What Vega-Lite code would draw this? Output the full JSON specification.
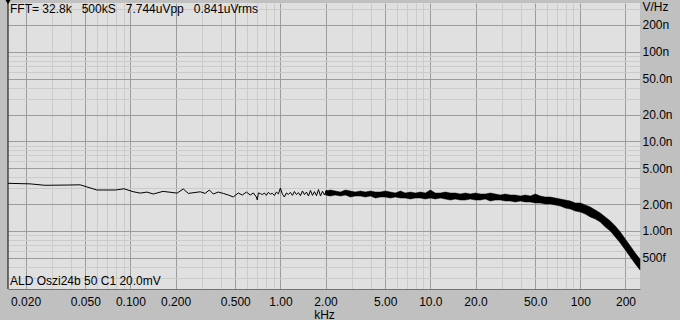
{
  "$schema": "https://vega.github.io/schema/vega-lite/v6.json",
  "width": 632,
  "height": 286,
  "autosize": {"type": "none"},
  "padding": {"left": 8, "top": 3, "right": 40, "bottom": 31},
  "background": "#c0c0c0",
  "view": {"fill": "#e0e0e0", "stroke": null},
  "config": {"font": "Liberation Sans"},
  "datasets": {
    "line": [
      {"f": 0.01526, "v": 3.41}, {"f": 0.0214, "v": 3.36}, {"f": 0.0269, "v": 3.24}, {"f": 0.0378, "v": 3.26},
      {"f": 0.0461, "v": 3.28}, {"f": 0.0599, "v": 2.87}, {"f": 0.0791, "v": 2.87}, {"f": 0.0908, "v": 2.96},
      {"f": 0.104, "v": 2.75}, {"f": 0.116, "v": 2.65}, {"f": 0.129, "v": 2.72}, {"f": 0.142, "v": 2.59},
      {"f": 0.165, "v": 2.77}, {"f": 0.205, "v": 2.65}, {"f": 0.225, "v": 2.95}, {"f": 0.243, "v": 2.63},
      {"f": 0.292, "v": 2.74}, {"f": 0.315, "v": 2.63}, {"f": 0.336, "v": 2.87}, {"f": 0.357, "v": 2.59},
      {"f": 0.385, "v": 2.72}, {"f": 0.416, "v": 2.63}, {"f": 0.45, "v": 2.52}, {"f": 0.485, "v": 2.4},
      {"f": 0.524, "v": 2.66}, {"f": 0.557, "v": 2.52}, {"f": 0.593, "v": 2.72}, {"f": 0.63, "v": 2.52},
      {"f": 0.66, "v": 2.66}, {"f": 0.691, "v": 2.4}, {"f": 0.702, "v": 2.22}, {"f": 0.713, "v": 2.66},
      {"f": 0.735, "v": 2.62}, {"f": 0.758, "v": 2.55}, {"f": 0.782, "v": 2.66}, {"f": 0.806, "v": 2.5},
      {"f": 0.831, "v": 2.7}, {"f": 0.857, "v": 2.58}, {"f": 0.884, "v": 2.64}, {"f": 0.912, "v": 2.49},
      {"f": 0.94, "v": 2.72}, {"f": 0.97, "v": 2.6}, {"f": 1.0, "v": 3.02}, {"f": 1.031, "v": 2.58},
      {"f": 1.063, "v": 2.4}, {"f": 1.097, "v": 2.66}, {"f": 1.131, "v": 2.56}, {"f": 1.166, "v": 2.7},
      {"f": 1.203, "v": 2.5}, {"f": 1.24, "v": 2.76}, {"f": 1.279, "v": 2.55}, {"f": 1.319, "v": 2.68},
      {"f": 1.36, "v": 2.48}, {"f": 1.403, "v": 2.8}, {"f": 1.447, "v": 2.55}, {"f": 1.492, "v": 2.72},
      {"f": 1.539, "v": 2.46}, {"f": 1.587, "v": 2.84}, {"f": 1.636, "v": 2.5}, {"f": 1.688, "v": 2.75},
      {"f": 1.74, "v": 2.48}, {"f": 1.795, "v": 2.9}, {"f": 1.851, "v": 2.46}, {"f": 1.909, "v": 2.78},
      {"f": 1.969, "v": 2.52}, {"f": 2.03, "v": 2.86}, {"f": 2.094, "v": 2.46}, {"f": 2.159, "v": 2.78}
    ],
    "band": [
      {"f": 2.0, "lo": 2.522, "hi": 2.795}, {"f": 2.154, "lo": 2.458, "hi": 2.868}, {"f": 2.326, "lo": 2.522, "hi": 2.795},
      {"f": 2.512, "lo": 2.458, "hi": 2.724}, {"f": 2.712, "lo": 2.522, "hi": 2.868}, {"f": 2.929, "lo": 2.396, "hi": 2.795},
      {"f": 3.162, "lo": 2.458, "hi": 2.724}, {"f": 3.415, "lo": 2.458, "hi": 2.795}, {"f": 3.687, "lo": 2.396, "hi": 2.724},
      {"f": 3.981, "lo": 2.458, "hi": 2.795}, {"f": 4.299, "lo": 2.335, "hi": 2.724}, {"f": 4.642, "lo": 2.396, "hi": 2.724},
      {"f": 5.012, "lo": 2.396, "hi": 2.795}, {"f": 5.412, "lo": 2.335, "hi": 2.724}, {"f": 5.843, "lo": 2.396, "hi": 2.655},
      {"f": 6.31, "lo": 2.335, "hi": 2.795}, {"f": 6.813, "lo": 2.335, "hi": 2.655}, {"f": 7.356, "lo": 2.276, "hi": 2.724},
      {"f": 7.943, "lo": 2.335, "hi": 2.655}, {"f": 8.577, "lo": 2.335, "hi": 2.724}, {"f": 9.261, "lo": 2.276, "hi": 2.655},
      {"f": 10.0, "lo": 2.335, "hi": 2.868}, {"f": 10.8, "lo": 2.276, "hi": 2.655}, {"f": 11.66, "lo": 2.335, "hi": 2.655},
      {"f": 12.59, "lo": 2.276, "hi": 2.724}, {"f": 13.59, "lo": 2.218, "hi": 2.655}, {"f": 14.68, "lo": 2.276, "hi": 2.655},
      {"f": 15.85, "lo": 2.218, "hi": 2.588}, {"f": 17.11, "lo": 2.218, "hi": 2.655}, {"f": 18.48, "lo": 2.276, "hi": 2.588},
      {"f": 19.95, "lo": 2.218, "hi": 2.655}, {"f": 21.54, "lo": 2.218, "hi": 2.588}, {"f": 23.26, "lo": 2.276, "hi": 2.588},
      {"f": 25.12, "lo": 2.162, "hi": 2.655}, {"f": 27.12, "lo": 2.218, "hi": 2.588}, {"f": 29.29, "lo": 2.218, "hi": 2.522},
      {"f": 31.62, "lo": 2.162, "hi": 2.588}, {"f": 34.15, "lo": 2.162, "hi": 2.522}, {"f": 36.87, "lo": 2.107, "hi": 2.522},
      {"f": 39.81, "lo": 2.162, "hi": 2.458}, {"f": 42.99, "lo": 2.107, "hi": 2.522}, {"f": 46.42, "lo": 2.107, "hi": 2.458},
      {"f": 50.12, "lo": 2.053, "hi": 2.588}, {"f": 54.12, "lo": 2.053, "hi": 2.458}, {"f": 58.43, "lo": 2.001, "hi": 2.396},
      {"f": 63.1, "lo": 2.001, "hi": 2.396}, {"f": 68.13, "lo": 1.95, "hi": 2.335}, {"f": 73.56, "lo": 1.901, "hi": 2.276},
      {"f": 79.43, "lo": 1.805, "hi": 2.218}, {"f": 85.77, "lo": 1.759, "hi": 2.162}, {"f": 92.61, "lo": 1.671, "hi": 2.053},
      {"f": 100.0, "lo": 1.629, "hi": 2.053}, {"f": 108.0, "lo": 1.547, "hi": 1.95}, {"f": 116.6, "lo": 1.432, "hi": 1.852},
      {"f": 125.9, "lo": 1.36, "hi": 1.715}, {"f": 135.9, "lo": 1.259, "hi": 1.587}, {"f": 146.8, "lo": 1.107, "hi": 1.432},
      {"f": 158.5, "lo": 0.999, "hi": 1.292}, {"f": 171.1, "lo": 0.856, "hi": 1.136}, {"f": 184.8, "lo": 0.734, "hi": 0.974},
      {"f": 199.5, "lo": 0.613, "hi": 0.813}, {"f": 215.4, "lo": 0.512, "hi": 0.679}, {"f": 232.6, "lo": 0.428, "hi": 0.567},
      {"f": 250.0, "lo": 0.367, "hi": 0.486}
    ]
  },
  "layer": [
    {
      "data": {"name": "band"},
      "mark": {"type": "area", "color": "black", "stroke": "black", "strokeWidth": 0.5},
      "encoding": {
        "x": {
          "field": "f", "type": "quantitative",
          "scale": {"type": "log", "domain": [0.01526, 250], "nice": false},
          "axis": {
            "orient": "bottom",
            "values": [0.02, 0.03, 0.04, 0.05, 0.06, 0.07, 0.08, 0.09, 0.1, 0.2, 0.3, 0.4, 0.5, 0.6, 0.7, 0.8, 0.9, 1, 2, 3, 4, 5, 6, 7, 8, 9, 10, 20, 30, 40, 50, 60, 70, 80, 90, 100, 200],
            "grid": true,
            "gridColor": {"condition": {"test": "indexof([0.02,0.05,0.1,0.2,0.5,1,2,5,10,20,50,100,200], datum.value) >= 0", "value": "#9c9c9c"}, "value": "#cbcbcb"},
            "gridOpacity": 1,
            "ticks": false,
            "domain": true,
            "domainColor": "#a45c5c",
            "domainWidth": 1,
            "labelExpr": "indexof([0.02,0.05,0.1,0.2,0.5,1,2,5,10,20,50,100,200], datum.value) >= 0 ? (datum.value < 1 ? format(datum.value, '.3f') : format(datum.value, '.3r')) : ''",
            "labelFontSize": 12,
            "labelColor": "#000000",
            "labelPadding": 7,
            "labelOverlap": false,
            "labelFlush": false,
            "labelBound": false,
            "title": "kHz",
            "titleFontSize": 12,
            "titleFontWeight": "normal",
            "titleColor": "#000000",
            "titlePadding": 2
          }
        },
        "y": {
          "field": "lo", "type": "quantitative",
          "scale": {"type": "log", "domain": [0.225, 352], "nice": false},
          "axis": {
            "orient": "right",
            "values": [0.3, 0.4, 0.5, 0.6, 0.7, 0.8, 0.9, 1, 2, 3, 4, 5, 6, 7, 8, 9, 10, 20, 30, 40, 50, 60, 70, 80, 90, 100, 200, 300],
            "grid": true,
            "gridColor": {"condition": {"test": "indexof([0.5,1,2,5,10,20,50,100,200], datum.value) >= 0", "value": "#9c9c9c"}, "value": "#cbcbcb"},
            "gridOpacity": 1,
            "ticks": false,
            "domain": false,
            "labelExpr": "indexof([0.5,1,2,5,10,20,50,100,200], datum.value) < 0 ? '' : (datum.value < 1 ? format(datum.value * 1000, '.3r') + 'f' : format(datum.value, '.3r') + 'n')",
            "labelFontSize": 12,
            "labelColor": "#000000",
            "labelPadding": 2,
            "labelAlign": "left",
            "labelBaseline": "middle",
            "labelOverlap": false,
            "labelFlush": false,
            "labelBound": false,
            "title": "V/Hz",
            "titleAngle": 0,
            "titleAlign": "left",
            "titleBaseline": "top",
            "titleX": 2,
            "titleY": -2,
            "titleFontSize": 12,
            "titleFontWeight": "normal",
            "titleColor": "#000000"
          }
        },
        "y2": {"field": "hi"}
      }
    },
    {
      "data": {"name": "line"},
      "mark": {"type": "line", "color": "black", "strokeWidth": 1},
      "encoding": {
        "x": {"field": "f", "type": "quantitative", "scale": {"type": "log", "domain": [0.01526, 250], "nice": false}},
        "y": {"field": "v", "type": "quantitative", "scale": {"type": "log", "domain": [0.225, 352], "nice": false}}
      }
    },
    {
      "data": {"values": [{}]},
      "mark": {"type": "rule", "color": "black", "strokeWidth": 1},
      "encoding": {
        "x": {"datum": 0.01526, "type": "quantitative"}
      }
    },
    {
      "data": {"values": [{}]},
      "mark": {"type": "point", "shape": "triangle-down", "filled": true, "color": "black", "size": 30, "opacity": 1, "yOffset": -1},
      "encoding": {
        "x": {"datum": 0.01526, "type": "quantitative"},
        "y": {"datum": 352, "type": "quantitative"}
      }
    },
    {
      "data": {"values": [{}]},
      "mark": {"type": "text", "align": "left", "baseline": "top", "dx": 2, "dy": 1, "fontSize": 12, "color": "black", "text": "FFT= 32.8k \u00a0 500kS \u00a0 7.744uVpp \u00a0 0.841uVrms"},
      "encoding": {
        "x": {"datum": 0.01526, "type": "quantitative"},
        "y": {"datum": 352, "type": "quantitative"}
      }
    },
    {
      "data": {"values": [{}]},
      "mark": {"type": "text", "align": "left", "baseline": "bottom", "dx": 2, "dy": -1, "fontSize": 12, "color": "black", "text": "ALD Oszi24b 50 C1 20.0mV"},
      "encoding": {
        "x": {"datum": 0.01526, "type": "quantitative"},
        "y": {"datum": 0.225, "type": "quantitative"}
      }
    }
  ]
}
